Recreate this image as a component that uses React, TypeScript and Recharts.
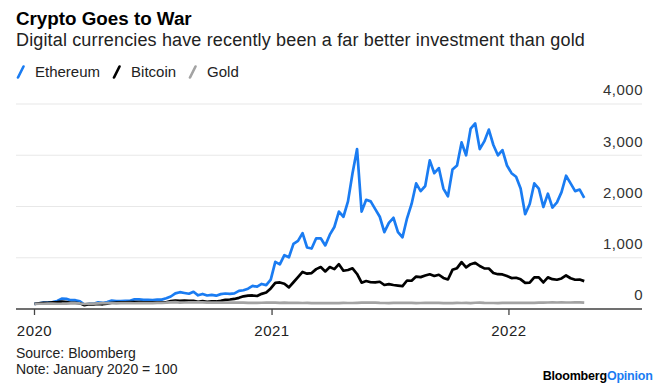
import { CartesianGrid, Line, LineChart, XAxis, YAxis } from "recharts";

// weekly closes, index January 2020 = 100, one point every 7 days from 2020-01-01
const ethereum = [
  // 2020
  100, 109, 126, 128, 134, 156, 202, 198, 172, 172, 149, 88, 103, 103, 130, 118, 137, 164, 156, 153,
  160, 160, 187, 187, 179, 179, 176, 183, 183, 210, 244, 305, 328, 313, 298, 336, 267, 294, 263, 275,
  260, 290, 302, 294, 305, 355, 366, 397, 450, 435, 489, 466, 572,
  // 2021
  920, 870, 1050, 1010, 1270, 1330, 1480, 1200, 1180, 1380, 1380, 1240, 1450, 1600, 1900, 1800, 2100,
  2650, 3120, 1900, 2130, 2100, 1950, 1800, 1500, 1680, 1780, 1500, 1400, 1770, 2050, 2450, 2300, 2400,
  2900, 2650, 2750, 2350, 2200, 2720, 2800, 3250, 3000, 3520, 3620, 3120, 3270, 3500, 3200, 3000, 3100,
  2800,
  // 2022
  2650, 2580, 2350, 1850, 2050, 2450, 2350, 1990, 2250, 1980, 2080, 2280, 2600, 2450, 2300, 2330, 2170
];

const bitcoin = [
  // 2020
  100, 112, 122, 120, 129, 133, 143, 133, 122, 122, 110, 75, 93, 92, 101, 92, 104, 122, 127, 129,
  132, 133, 134, 136, 131, 129, 128, 131, 128, 132, 154, 163, 160, 163, 159, 158, 142, 152, 142, 150,
  147, 158, 178, 185, 196, 218, 247, 260, 264, 254, 296, 322, 401,
  // 2021
  511, 518, 493, 422, 522, 624, 724, 690, 701, 778, 818, 733, 818, 778, 875, 747, 761, 794, 683, 514,
  546, 522, 518, 532, 468, 486, 468, 456, 446, 556, 551, 633, 622, 653, 678, 644, 668, 606, 576, 764,
  797, 915, 811, 874, 901, 839, 793, 790, 703, 679, 675, 644,
  // 2022
  603, 610, 579, 511, 513, 617, 618, 518, 617, 582, 571, 596, 654, 600, 571, 575, 544
];

const gold = [
  // 2020
  100, 102, 102, 103, 104, 102, 103, 106, 108, 108, 108, 97, 106, 105, 109, 113, 113, 113, 111, 113,
  115, 113, 112, 114, 113, 116, 116, 119, 119, 123, 130, 134, 126, 127, 129, 128, 128, 129, 123, 124,
  124, 125, 127, 124, 125, 123, 123, 119, 120, 121, 122, 123, 124,
  // 2021
  126, 121, 123, 121, 121, 121, 117, 118, 113, 113, 115, 114, 113, 114, 115, 118, 117, 117, 120, 123,
  125, 126, 124, 119, 117, 116, 118, 120, 119, 119, 119, 115, 117, 118, 119, 118, 118, 116, 113, 116,
  118, 117, 118, 116, 122, 123, 118, 117, 117, 116, 118, 119,
  // 2022
  119, 120, 121, 120, 119, 121, 123, 126, 127, 131, 127, 128, 127, 127, 130, 129, 124
];

const yearTicks = [0, 366, 731]; // days since 2020-01-01
const yearLabels = ["2020", "2021", "2022"];
const valueTicks = [0, 1000, 2000, 3000, 4000];

const series = [
  { key: "ethereum", name: "Ethereum", color: "#1a7cf2" },
  { key: "bitcoin", name: "Bitcoin", color: "#000000" },
  { key: "gold", name: "Gold", color: "#a3a3a3" }
];

const data = ethereum.map((value, i) => ({
  day: i * 7,
  ethereum: value,
  bitcoin: bitcoin[i],
  gold: gold[i]
}));

const FONT = '"Liberation Sans", Arial, Helvetica, sans-serif';

function ValueTick({ x, y, payload }: any) {
  return (
    <text x={x + 1} y={y - 8.6} textAnchor="end" fontSize={15} fill="#333" letterSpacing={0.5} fontFamily={FONT}>
      {Number(payload.value).toLocaleString("en-US")}
    </text>
  );
}

function YearTick({ x, y, payload }: any) {
  const idx = yearTicks.indexOf(payload.value);
  return (
    <text x={x} y={y + 19} textAnchor="middle" fontSize={15} fill="#222" letterSpacing={0.5} fontFamily={FONT}>
      {yearLabels[idx]}
    </text>
  );
}

function Slash({ color }: { color: string }) {
  return (
    <svg width={12} height={14} style={{ marginRight: 7, display: "block" }}>
      <line x1={2} y1={12.5} x2={7.5} y2={1.5} stroke={color} strokeWidth={2.6} strokeLinecap="round" />
    </svg>
  );
}

export default function App() {
  return (
    <div style={{ position: "relative", width: 663, height: 392, background: "#fff", fontFamily: FONT, color: "#111" }}>
      <style>{"body{margin:0}"}</style>
      <div style={{ position: "absolute", left: 16, top: 9, fontSize: 18.8, lineHeight: "19px", fontWeight: 700, color: "#000" }}>
        Crypto Goes to War
      </div>
      <div style={{ position: "absolute", left: 16, top: 30.8, fontSize: 18, lineHeight: "18px", letterSpacing: 0.15, color: "#222", whiteSpace: "nowrap" }}>
        Digital currencies have recently been a far better investment than gold
      </div>
      <div style={{ position: "absolute", left: 16, top: 64, display: "flex", alignItems: "center", fontSize: 15, lineHeight: "15px", color: "#222" }}>
        {series.map((s) => (
          <div key={s.key} style={{ display: "flex", alignItems: "center", marginRight: 12 }}>
            <Slash color={s.color} />
            <span>{s.name}</span>
          </div>
        ))}
      </div>

      <div style={{ position: "absolute", left: 0, top: 0 }}>
        <LineChart width={663} height={392} data={data} margin={{ top: 104, right: 0, left: 16, bottom: 53 }}>
          <CartesianGrid vertical={false} stroke="#e8e8e8" strokeWidth={1.2} />
          <XAxis
            dataKey="day"
            type="number"
            domain={[-28.5, 936]}
            ticks={yearTicks}
            height={30}
            stroke="#444"
            axisLine={{ stroke: "#444", strokeWidth: 1.3 }}
            tickLine={{ stroke: "#444", strokeWidth: 1.3 }}
            tickSize={6}
            tick={<YearTick />}
            allowDataOverflow
          />
          <YAxis
            orientation="right"
            width={21}
            domain={[0, 4000]}
            ticks={valueTicks}
            interval={0}
            axisLine={false}
            tickLine={false}
            tickSize={0}
            tickMargin={0}
            tick={<ValueTick />}
          />
          {series.map((s) => (
            <Line
              key={s.key}
              type="linear"
              dataKey={s.key}
              name={s.name}
              stroke={s.color}
              strokeWidth={2.7}
              strokeLinejoin="round"
              dot={false}
              isAnimationActive={false}
            />
          ))}
        </LineChart>
      </div>

      <div style={{ position: "absolute", left: 16, top: 345.7, fontSize: 14, lineHeight: "14px", color: "#222" }}>
        Source: Bloomberg
      </div>
      <div style={{ position: "absolute", left: 16, top: 362.2, fontSize: 14, lineHeight: "14px", color: "#222" }}>
        Note: January 2020 = 100
      </div>
      <div style={{ position: "absolute", right: 10.3, top: 370, fontSize: 12.5, lineHeight: "12.5px", fontWeight: 700, letterSpacing: -0.2, whiteSpace: "nowrap" }}>
        <span style={{ color: "#000" }}>Bloomberg</span>
        <span style={{ color: "#1a7cf2" }}>Opinion</span>
      </div>
    </div>
  );
}
